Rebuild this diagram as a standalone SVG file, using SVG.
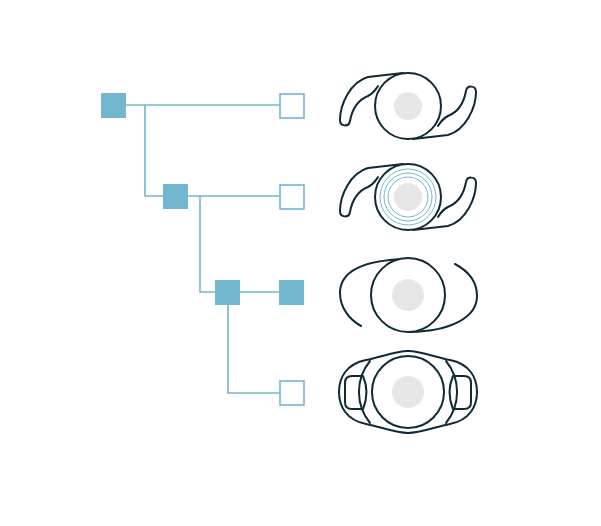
<svg xmlns="http://www.w3.org/2000/svg" width="601" height="526" viewBox="0 0 601 526">
<style>
.f{fill:#72b6d0}
.o{fill:#fff;stroke:#72b6d0;stroke-width:1.6}
.c{fill:none;stroke:#72b6d0;stroke-width:1.6}
.l{fill:#fff;stroke:#0f2a36;stroke-width:2}
.n{fill:none;stroke:#0f2a36;stroke-width:2;stroke-linejoin:round;stroke-linecap:round}
.g{fill:#e6e6e6}
.r{fill:none;stroke:#72b6d0;stroke-width:1}
</style>
<rect width="601" height="526" fill="#fff"/>
<g id="connectors">
<path class="c" d="M126,105H280M145,105V196H163M188,196H280M200,196V292H215M240,292H279M228,305V393H280"/>
</g>
<g id="n1"><rect class="f" x="101" y="93" width="25" height="25"/></g>
<g id="n2"><rect class="f" x="163" y="184" width="25" height="25"/></g>
<g id="n3"><rect class="f" x="215" y="280" width="25" height="25"/></g>
<g id="n4"><rect class="o" x="280" y="94" width="24" height="24"/></g>
<g id="n5"><rect class="o" x="280" y="185" width="24" height="24"/></g>
<g id="n6"><rect class="f" x="279" y="280" width="25" height="25"/></g>
<g id="n7"><rect class="o" x="280" y="381" width="24" height="24"/></g>
<g id="lens1">
<path class="n" d="M403,73 L368,77 C350,82 340,105 340,120 C340,127 349,127 350,121 C352,110 358,100 368,96 C374,93 376,89 378,86"/>
<path class="n" d="M413,139 L448,135 C466,130 476,107 476,92 C476,85 467,85 466,91 C464,102 458,112 448,116 C442,119 440,123 438,126"/>
<circle class="l" cx="408" cy="106" r="33"/>
<circle class="g" cx="408" cy="106" r="14"/>
</g>
<g id="lens2">
<path class="n" d="M403,164 L368,168 C350,173 340,196 340,211 C340,218 349,218 350,212 C352,201 358,191 368,187 C374,184 376,180 378,177"/>
<path class="n" d="M413,230 L448,226 C466,221 476,198 476,183 C476,176 467,176 466,182 C464,193 458,203 448,207 C442,210 440,214 438,217"/>
<circle class="l" cx="408" cy="197" r="33"/>
<circle class="r" cx="408" cy="197" r="28"/>
<circle class="r" cx="408" cy="197" r="24"/>
<circle class="r" cx="408" cy="197" r="20"/>
<circle class="g" cx="408" cy="197" r="14"/>
</g>
<g id="lens3">
<path class="n" d="M408,259 C360,260 340,272 340,293 C340,308 350,320 361,326"/>
<path class="n" d="M455,264 C470,272 477,283 477,296 C477,318 450,331 410,332"/>
<circle class="l" cx="408" cy="295" r="37"/>
<circle class="g" cx="408" cy="295" r="16"/>
</g>
<g id="lens4">
<path class="n" d="M408,351 C420,351 435,357 450,360 C470,364 477,378 477,392 C477,406 470,420 450,424 C435,427 420,433 408,433 C396,433 381,427 366,424 C346,420 339,406 339,392 C339,378 346,364 366,360 C381,357 396,351 408,351 Z"/>
<path class="n" d="M370,361 A49,49 0 0 0 370,423 M446,361 A49,49 0 0 1 446,423"/>
<path class="n" d="M363,376 L352,376 Q345,376 345,383 L345,402 Q345,409 352,409 L363,409 Q370,392 363,376 Z"/>
<path class="n" d="M453,376 L464,376 Q471,376 471,383 L471,402 Q471,409 464,409 L453,409 Q446,392 453,376 Z"/>
<circle class="l" cx="408" cy="392" r="36"/>
<circle class="g" cx="408" cy="392" r="16"/>
</g>
</svg>
